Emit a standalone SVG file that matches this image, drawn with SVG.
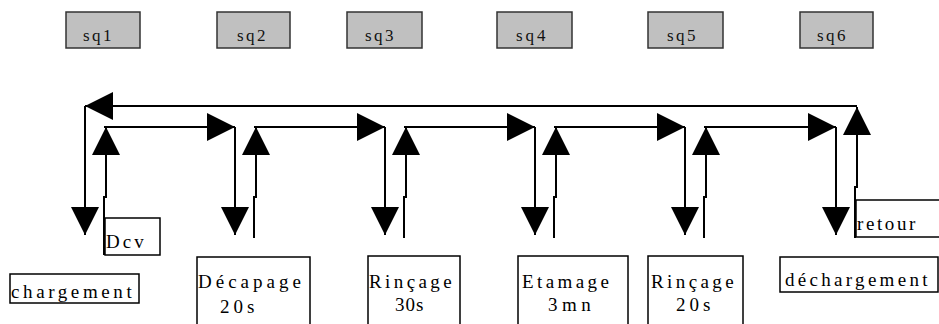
<svg xmlns="http://www.w3.org/2000/svg" width="939" height="324" viewBox="0 0 939 324">
<defs>
<marker id="ah" markerUnits="userSpaceOnUse" markerWidth="28" markerHeight="28" refX="28" refY="14" orient="auto" viewBox="0 0 28 28">
<path d="M0,0 L28,14 L0,28 z" fill="#000"/>
</marker>
</defs>
<rect width="939" height="324" fill="#fff"/>
<g fill="#c0c0c0" stroke="#333" stroke-width="1.5">
<g id="sq1"><rect x="66" y="12" width="74" height="36"/><text x="83" y="41" style="font-family:'Liberation Serif',serif;font-size:17px;letter-spacing:2.5px;fill:#111;stroke:none">sq1</text></g>
<g id="sq2"><rect x="217" y="12" width="73" height="36"/><text x="237" y="41" style="font-family:'Liberation Serif',serif;font-size:17px;letter-spacing:2.5px;fill:#111;stroke:none">sq2</text></g>
<g id="sq3"><rect x="347" y="12" width="75" height="36"/><text x="365" y="41" style="font-family:'Liberation Serif',serif;font-size:17px;letter-spacing:2.5px;fill:#111;stroke:none">sq3</text></g>
<g id="sq4"><rect x="497" y="12" width="75" height="36"/><text x="516" y="41" style="font-family:'Liberation Serif',serif;font-size:17px;letter-spacing:3px;fill:#111;stroke:none">sq4</text></g>
<g id="sq5"><rect x="648" y="12" width="75" height="36"/><text x="667" y="41" style="font-family:'Liberation Serif',serif;font-size:17px;letter-spacing:2.5px;fill:#111;stroke:none">sq5</text></g>
<g id="sq6"><rect x="800" y="12" width="73" height="36"/><text x="817" y="41" style="font-family:'Liberation Serif',serif;font-size:17px;letter-spacing:2.5px;fill:#111;stroke:none">sq6</text></g>
</g>

<g id="connectors" fill="none" stroke="#000" stroke-width="2">
<path d="M857,106 H85" marker-end="url(#ah)"/>
<path d="M85,106 V235" marker-end="url(#ah)"/>
<path d="M104,255 V197 H106 V127" marker-end="url(#ah)"/>
<path d="M104,127 H235" marker-end="url(#ah)"/>
<path d="M235,127 V235" marker-end="url(#ah)"/>
<path d="M254,238 V197 H256 V127" marker-end="url(#ah)"/>
<path d="M254,127 H385" marker-end="url(#ah)"/>
<path d="M385,127 V235" marker-end="url(#ah)"/>
<path d="M404,238 V197 H406 V127" marker-end="url(#ah)"/>
<path d="M404,127 H535" marker-end="url(#ah)"/>
<path d="M535,127 V235" marker-end="url(#ah)"/>
<path d="M554,238 V197 H556 V127" marker-end="url(#ah)"/>
<path d="M554,127 H685" marker-end="url(#ah)"/>
<path d="M685,127 V235" marker-end="url(#ah)"/>
<path d="M704,238 V197 H706 V127" marker-end="url(#ah)"/>
<path d="M704,127 H836" marker-end="url(#ah)"/>
<path d="M836,127 V235" marker-end="url(#ah)"/>
<path d="M855,238 V187 H857 V107" marker-end="url(#ah)"/>
</g>

<g fill="#fff" stroke="#000" stroke-width="1.5">
<g id="chargement"><rect x="10" y="274" width="129" height="29"/><text x="11" y="298" style="font-family:'Liberation Serif',serif;font-size:19px;letter-spacing:3.6px;fill:#000;stroke:none">chargement</text></g>
<g id="dcv"><rect x="105" y="218" width="55" height="37"/><text x="106" y="248" style="font-family:'Liberation Serif',serif;font-size:19px;letter-spacing:3px;fill:#000;stroke:none">Dcv</text></g>
<g id="decapage"><rect x="197" y="257" width="113" height="80"/><text x="198" y="288" style="font-family:'Liberation Serif',serif;font-size:19px;letter-spacing:4px;fill:#000;stroke:none">Décapage</text><text x="220" y="313" style="font-family:'Liberation Serif',serif;font-size:19px;letter-spacing:4px;fill:#000;stroke:none">20s</text></g>
<g id="rincage1"><rect x="368" y="256" width="92" height="80"/><text x="369" y="288" style="font-family:'Liberation Serif',serif;font-size:19px;letter-spacing:3.4px;fill:#000;stroke:none">Rinçage</text><text x="395" y="311" style="font-family:'Liberation Serif',serif;font-size:19px;letter-spacing:1px;fill:#000;stroke:none">30s</text></g>
<g id="etamage"><rect x="518" y="256" width="110" height="80"/><text x="522" y="288" style="font-family:'Liberation Serif',serif;font-size:19px;letter-spacing:3.4px;fill:#000;stroke:none">Etamage</text><text x="548" y="311" style="font-family:'Liberation Serif',serif;font-size:19px;letter-spacing:4.5px;fill:#000;stroke:none">3mn</text></g>
<g id="rincage2"><rect x="648" y="256" width="95" height="80"/><text x="651" y="288" style="font-family:'Liberation Serif',serif;font-size:19px;letter-spacing:3.4px;fill:#000;stroke:none">Rinçage</text><text x="676" y="311" style="font-family:'Liberation Serif',serif;font-size:19px;letter-spacing:4px;fill:#000;stroke:none">20s</text></g>
<g id="dechargement"><rect x="780" y="257" width="158" height="35"/><text x="785" y="286" style="font-family:'Liberation Serif',serif;font-size:19px;letter-spacing:3.3px;fill:#000;stroke:none">déchargement</text></g>
<g id="retour"><rect x="856" y="200" width="90" height="37"/><text x="857" y="230" style="font-family:'Liberation Serif',serif;font-size:19px;letter-spacing:2.6px;fill:#000;stroke:none">retour</text></g>
</g>
</svg>
